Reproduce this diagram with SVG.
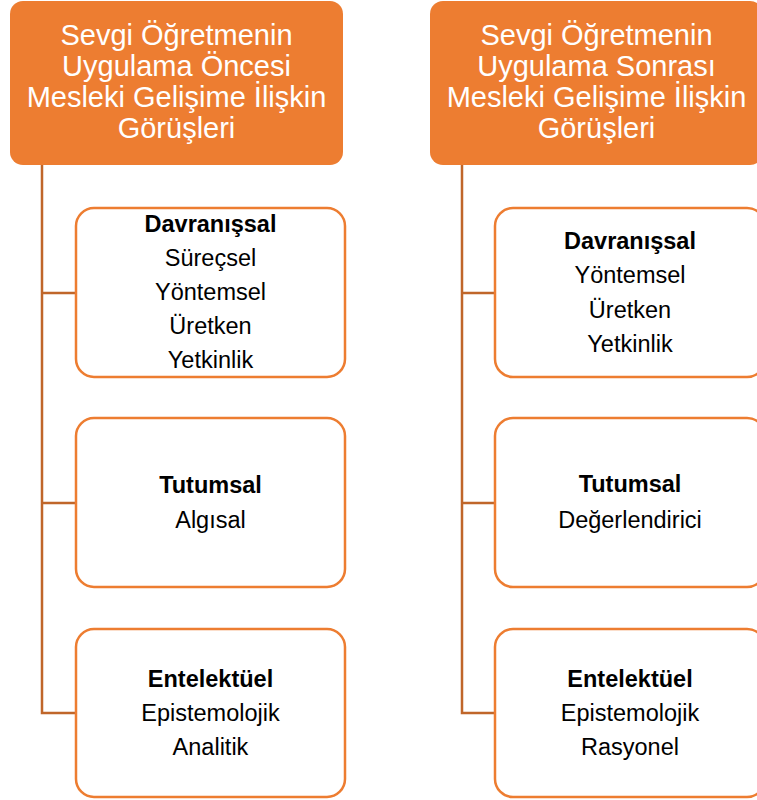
<svg xmlns="http://www.w3.org/2000/svg" width="757" height="800" viewBox="0 0 757 800">
<style>
.hdr{fill:#ED7D31;}
.hdrt{font-size:29px;fill:#FFFFFF;text-anchor:middle;}
.box{fill:#FFFFFF;stroke:#ED7D31;stroke-width:2.5;}
.t{font-size:23.5px;fill:#000000;text-anchor:middle;}
.b{font-weight:bold;}
.con{fill:none;stroke:#C0662A;stroke-width:2.5;}
</style>
<rect width="757" height="800" fill="#FFFFFF"/>
<g id="connectors">
<path class="con" d="M42,165 V713 H76 M42,293 H76 M42,503 H76"/>
<path class="con" d="M462,165 V713 H495 M462,293 H495 M462,503 H495"/>
</g>
<g font-family="Liberation Sans, Arimo, Helvetica, sans-serif">
<g id="header-left">
<rect class="hdr" x="10" y="1" width="333" height="164" rx="13"/>
<text class="hdrt" x="176.5" y="45">Sevgi Öğretmenin</text>
<text class="hdrt" x="176.5" y="76">Uygulama Öncesi</text>
<text class="hdrt" x="176.5" y="107">Mesleki Gelişime İlişkin</text>
<text class="hdrt" x="176.5" y="138">Görüşleri</text>
</g>
<g id="header-right">
<rect class="hdr" x="430" y="1" width="333" height="164" rx="13"/>
<text class="hdrt" x="596.5" y="45">Sevgi Öğretmenin</text>
<text class="hdrt" x="596.5" y="76">Uygulama Sonrası</text>
<text class="hdrt" x="596.5" y="107">Mesleki Gelişime İlişkin</text>
<text class="hdrt" x="596.5" y="138">Görüşleri</text>
</g>
<g id="left-davranissal">
<rect class="box" x="76" y="208" width="269" height="169" rx="18"/>
<text class="t b" x="210.5" y="232">Davranışsal</text>
<text class="t" x="210.5" y="266">Süreçsel</text>
<text class="t" x="210.5" y="300">Yöntemsel</text>
<text class="t" x="210.5" y="334">Üretken</text>
<text class="t" x="210.5" y="368">Yetkinlik</text>
</g>
<g id="left-tutumsal">
<rect class="box" x="76" y="418" width="269" height="169" rx="18"/>
<text class="t b" x="210.5" y="493">Tutumsal</text>
<text class="t" x="210.5" y="528">Algısal</text>
</g>
<g id="left-entelektuel">
<rect class="box" x="76" y="629" width="269" height="168" rx="18"/>
<text class="t b" x="210.5" y="687">Entelektüel</text>
<text class="t" x="210.5" y="721">Epistemolojik</text>
<text class="t" x="210.5" y="755">Analitik</text>
</g>
<g id="right-davranissal">
<rect class="box" x="495" y="208" width="270" height="169" rx="18"/>
<text class="t b" x="630" y="249">Davranışsal</text>
<text class="t" x="630" y="283">Yöntemsel</text>
<text class="t" x="630" y="318">Üretken</text>
<text class="t" x="630" y="352">Yetkinlik</text>
</g>
<g id="right-tutumsal">
<rect class="box" x="495" y="418" width="270" height="169" rx="18"/>
<text class="t b" x="630" y="492">Tutumsal</text>
<text class="t" x="630" y="528">Değerlendirici</text>
</g>
<g id="right-entelektuel">
<rect class="box" x="495" y="629" width="270" height="168" rx="18"/>
<text class="t b" x="630" y="687">Entelektüel</text>
<text class="t" x="630" y="721">Epistemolojik</text>
<text class="t" x="630" y="755">Rasyonel</text>
</g>
</g>
</svg>
